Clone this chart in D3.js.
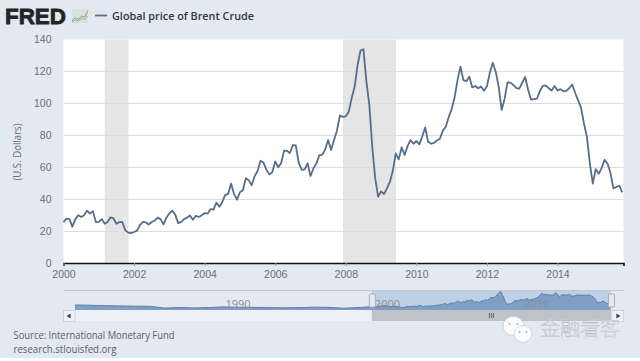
<!DOCTYPE html>
<html>
<head>
<meta charset="utf-8">
<script src="https://d3js.org/d3.v7.min.js"></script>
<style>
  html, body { margin: 0; padding: 0; background: #fff; }
  svg { display: block; font-family: "Open Sans", sans-serif; }
</style>
</head>
<body>
<svg id="chart" width="640" height="361"></svg>
<script>
// monthly price, one row per year, 2000 to Nov 2015
let y2000 = [25.5, 27.8, 27.5, 22.8, 27.5, 29.9, 28.8, 29.9, 32.8, 30.9, 32.5, 25.6];
let y2001 = [25.8, 27.5, 24.6, 25.7, 28.6, 27.9, 24.6, 25.6, 25.7, 20.6, 19.0, 18.7];
let y2002 = [19.4, 20.3, 23.7, 25.7, 25.4, 24.1, 25.7, 26.6, 28.4, 27.5, 24.2, 28.4];
let y2003 = [31.2, 32.7, 30.3, 25.0, 25.8, 27.5, 28.4, 29.8, 27.1, 29.6, 28.8, 29.9];
let y2004 = [31.3, 30.9, 33.8, 33.4, 37.9, 35.2, 38.2, 42.7, 43.2, 49.8, 43.1, 39.7];
let y2005 = [44.3, 45.6, 53.1, 51.9, 48.7, 54.3, 57.6, 64.1, 62.9, 58.5, 55.5, 56.8];
let y2006 = [63.6, 60.0, 62.4, 70.4, 70.2, 68.9, 73.9, 73.6, 62.7, 58.4, 58.7, 62.4];
let y2007 = [54.5, 59.2, 62.4, 67.5, 67.7, 71.2, 77.0, 70.8, 77.1, 82.9, 92.5, 91.5];
let y2008 = [91.9, 94.8, 103.3, 110.2, 123.9, 133.0, 133.9, 113.8, 99.1, 72.7, 53.0, 41.6];
let y2009 = [44.9, 43.1, 46.8, 50.8, 57.9, 68.6, 64.9, 72.5, 67.7, 73.2, 77.0, 74.7];
let y2010 = [76.4, 74.3, 79.3, 84.9, 75.9, 74.7, 75.3, 76.7, 77.8, 82.9, 85.3, 91.4];
let y2011 = [96.5, 103.7, 114.6, 123.0, 114.5, 113.9, 116.7, 110.0, 110.9, 109.5, 110.5, 107.9];
let y2012 = [110.7, 119.3, 125.4, 119.7, 110.3, 95.9, 102.8, 113.2, 113.0, 111.5, 109.5, 109.2];
let y2013 = [112.9, 116.5, 108.5, 102.3, 102.6, 102.9, 107.7, 110.9, 111.2, 109.5, 108.0, 110.8];
let y2014 = [108.1, 108.9, 107.5, 107.8, 109.5, 111.8, 106.5, 101.9, 97.3, 87.3, 79.0, 62.3];
let y2015 = [49.8, 58.8, 55.9, 59.4, 64.6, 62.3, 56.5, 46.7, 47.6, 48.4, 44.3];

// yearly average for the navigator, 1980 to 1999
let earlyYears = [37, 35, 32, 30, 28, 27, 14, 18, 15, 18, 23, 20, 19, 17, 16, 17, 21, 19, 13, 18];

let yTicks = [0, 20, 40, 60, 80, 100, 120, 140];
let xTicks = [2000, 2002, 2004, 2006, 2008, 2010, 2012, 2014];
let navTicks = [1990, 2000, 2010];
let recessions = [[2001.17, 2001.84], [2007.92, 2009.42]];

let title = "Global price of Brent Crude";
let yLabel = "(U.S. Dollars)";
let sourceLines = ["Source: International Monetary Fund", "research.stlouisfed.org"];
let watermark = "金融看客";

let monthly = [y2000, y2001, y2002, y2003, y2004, y2005, y2006, y2007,
  y2008, y2009, y2010, y2011, y2012, y2013, y2014, y2015]
  .flatMap((row, i) => row.map((v, m) => ({ t: 2000 + i + m / 12, v: v })));
let early = earlyYears.map((v, i) => ({ t: 1980 + i, v: v }));

let svg = d3.select("#chart");

// page background
svg.append("rect").attr("width", 640).attr("height", 358).attr("fill", "#e2e9f1");

// Create scales
let x = d3.scaleLinear().domain([2000, 2015.87]).range([63.5, 623.5]);
let y = d3.scaleLinear().domain([0, 140]).range([263, 39.5]);
let navX = d3.scaleLinear().domain([1980, 2015.87]).range([75, 611]);
let navY = d3.scaleLinear().domain([0, 140]).range([310, 291]);

// Plot area
svg.append("rect")
  .attr("x", x.range()[0])
  .attr("y", y.range()[1])
  .attr("width", x.range()[1] - x.range()[0])
  .attr("height", y.range()[0] - y.range()[1])
  .attr("fill", "#fff");

// Recession bands
svg.append("g")
  .selectAll("rect")
  .data(recessions)
  .enter()
  .append("rect")
  .attr("x", (d) => x(d[0]))
  .attr("y", y(140))
  .attr("width", (d) => x(d[1]) - x(d[0]))
  .attr("height", y(0) - y(140))
  .attr("fill", "#e5e5e6");

// Grid lines
svg.append("g")
  .selectAll("line")
  .data(yTicks.slice(1, -1))
  .enter()
  .append("line")
  .attr("x1", x.range()[0])
  .attr("x2", x.range()[1])
  .attr("y1", (d) => Math.round(y(d)) + 0.5)
  .attr("y2", (d) => Math.round(y(d)) + 0.5)
  .attr("stroke", "#dcdcdf");

// Axes
let yAxis = svg.append("g")
  .attr("transform", `translate(${x.range()[0]},0)`)
  .call(d3.axisLeft(y).tickValues(yTicks).tickSize(0).tickPadding(12));
yAxis.select(".domain").remove();
yAxis.selectAll("text").style("font-size", "10.5px").attr("fill", "#6d6f74");

let xAxis = svg.append("g")
  .attr("transform", `translate(0,${y(0)})`)
  .call(d3.axisBottom(x).tickValues(xTicks).tickFormat(d3.format("d")).tickSize(3).tickPadding(5));
xAxis.select(".domain").attr("stroke", "#111").attr("stroke-width", 1.6);
xAxis.selectAll("line").attr("stroke", "#999");
xAxis.selectAll("text").style("font-size", "10.5px").attr("fill", "#6d6f74");

// Y-Axis Label
svg.append("text")
  .attr("transform", "rotate(-90)")
  .attr("x", -152)
  .attr("y", 21)
  .attr("text-anchor", "middle")
  .attr("textLength", 57)
  .attr("lengthAdjust", "spacingAndGlyphs")
  .style("font-size", "10px")
  .attr("fill", "#6d6f74")
  .text(yLabel);

// Price line
let line = d3.line().x((d) => x(d.t)).y((d) => y(d.v));
svg.append("path")
  .datum(monthly)
  .attr("d", line)
  .attr("fill", "none")
  .attr("stroke", "#566e8c")
  .attr("stroke-width", 1.8)
  .attr("stroke-linejoin", "round");

// Navigator
let selStart = navX(2000) - 2;
let selEnd = navX(2015.87);
let allPoints = early.concat(monthly);

svg.append("rect")
  .attr("x", navX.range()[0])
  .attr("y", 310)
  .attr("width", selStart - navX.range()[0])
  .attr("height", 11)
  .attr("fill", "#edf1f6");
svg.append("rect")
  .attr("x", selStart)
  .attr("y", 291)
  .attr("width", selEnd - selStart)
  .attr("height", 19)
  .attr("fill", "#bed0e6");
svg.append("line")
  .attr("x1", x.range()[0])
  .attr("x2", x.range()[1])
  .attr("y1", 290.5)
  .attr("y2", 290.5)
  .attr("stroke", "#c4c8cd");

let navArea = d3.area().x((d) => navX(d.t)).y0(navY(0)).y1((d) => navY(d.v));
svg.append("path").datum(allPoints).attr("d", navArea).attr("fill", "#7f9fc4");
svg.append("path")
  .datum(allPoints)
  .attr("d", d3.line().x((d) => navX(d.t)).y((d) => navY(d.v)))
  .attr("fill", "none")
  .attr("stroke", "#5d7ea6");

svg.append("g")
  .selectAll("text")
  .data(navTicks)
  .enter()
  .append("text")
  .attr("x", (d) => navX(d) + 1)
  .attr("y", 308)
  .style("font-size", "11px")
  .attr("fill", "#8b8f96")
  .text((d) => d);

// Scrollbar and its buttons
svg.append("rect")
  .attr("x", selStart)
  .attr("y", 310)
  .attr("width", selEnd - selStart)
  .attr("height", 11)
  .attr("fill", "#bfc2c7");
svg.append("g")
  .selectAll("line")
  .data([-2, 0, 2])
  .enter()
  .append("line")
  .attr("x1", (d) => (selStart + selEnd) / 2 + d)
  .attr("x2", (d) => (selStart + selEnd) / 2 + d)
  .attr("y1", 313)
  .attr("y2", 318)
  .attr("stroke", "#666");

let buttons = [[63.5, -90], [612, 90]];
let arrow = d3.symbol().type(d3.symbolTriangle).size(10);
svg.append("g")
  .selectAll("g")
  .data(buttons)
  .enter()
  .append("g")
  .each(function (d) {
    d3.select(this).append("rect")
      .attr("x", d[0])
      .attr("y", 310.5)
      .attr("width", 11.5)
      .attr("height", 11)
      .attr("fill", "#eef1f5")
      .attr("stroke", "#cfd3d8");
    d3.select(this).append("path")
      .attr("d", arrow())
      .attr("transform", `translate(${d[0] + 5.75},316) rotate(${d[1]})`)
      .attr("fill", "#444");
  });

// Navigator handles
svg.append("g")
  .selectAll("rect")
  .data([selStart, selEnd])
  .enter()
  .append("rect")
  .attr("x", (d) => d - 2.5)
  .attr("y", 294)
  .attr("width", 6)
  .attr("height", 13)
  .attr("rx", 1)
  .attr("fill", "#e8e9eb")
  .attr("stroke", "#aaaeb3");

// Logo and legend
svg.append("text")
  .attr("x", 5)
  .attr("y", 24)
  .attr("textLength", 61)
  .attr("lengthAdjust", "spacingAndGlyphs")
  .style("font-family", "'Liberation Sans', sans-serif")
  .style("font-size", "22px")
  .style("font-weight", "bold")
  .attr("fill", "#232426")
  .attr("stroke", "#232426")
  .attr("stroke-width", 0.8)
  .text("FRED");

let logoX = d3.scaleLinear().domain([0, 5]).range([72, 88]);
let logoY = d3.scaleLinear().domain([0, 5]).range([23, 9]);
svg.append("rect")
  .attr("x", logoX(0))
  .attr("y", logoY(5))
  .attr("width", 16)
  .attr("height", 14)
  .attr("fill", "#d9e1dc");
let logoLine = d3.line().x((d, i) => logoX(i)).y((d) => logoY(d));
svg.append("path")
  .attr("d", logoLine([0.8, 1.8, 1.2, 2.4, 2.1, 4.4]))
  .attr("fill", "none")
  .attr("stroke", "#8a9a90");
svg.append("path")
  .attr("d", logoLine([0.4, 1.0, 0.7, 1.6, 1.3, 2.6]))
  .attr("fill", "none")
  .attr("stroke", "#9dbb8f");

svg.append("line")
  .attr("x1", 95)
  .attr("x2", 107)
  .attr("y1", 15.5)
  .attr("y2", 15.5)
  .attr("stroke", "#566e8c")
  .attr("stroke-width", 1.8);
svg.append("text")
  .attr("x", 112)
  .attr("y", 19.5)
  .attr("textLength", 142)
  .attr("lengthAdjust", "spacingAndGlyphs")
  .style("font-size", "11px")
  .style("font-weight", "600")
  .attr("fill", "#33363b")
  .text(title);

// Source
svg.append("g")
  .selectAll("text")
  .data(sourceLines)
  .enter()
  .append("text")
  .attr("x", 13.5)
  .attr("y", (d, i) => 338.5 + i * 14.5)
  .attr("textLength", (d, i) => (i === 0 ? 161 : 103))
  .attr("lengthAdjust", "spacingAndGlyphs")
  .style("font-size", "10.5px")
  .attr("fill", "#5c6066")
  .text((d) => d);

// Watermark, two chat bubbles and the account name
let bubbles = [
  { cx: 513.5, cy: 326, rx: 10.5, ry: 9.5, eyes: [-4, 4] },
  { cx: 523, cy: 334, rx: 9, ry: 8.5, eyes: [-3.5, 3.5] },
];
let wm = svg.append("g");
bubbles.forEach((b) => {
  wm.append("ellipse")
    .attr("cx", b.cx)
    .attr("cy", b.cy)
    .attr("rx", b.rx)
    .attr("ry", b.ry)
    .attr("fill", "#fbfcfd")
    .attr("stroke", "#c3c8cf")
    .attr("stroke-width", 0.7);
  wm.selectAll(null)
    .data(b.eyes)
    .enter()
    .append("circle")
    .attr("cx", (d) => b.cx + d)
    .attr("cy", b.cy - 2)
    .attr("r", 1)
    .attr("fill", "#a9aeb5");
});
svg.append("text")
  .attr("x", 540)
  .attr("y", 336)
  .style("font-family", "'Noto Sans CJK SC', sans-serif")
  .style("font-size", "20px")
  .style("font-weight", "300")
  .attr("textLength", 80)
  .attr("fill", "#f4f6f9")
  .attr("stroke", "#aeb4bc")
  .attr("stroke-width", 0.4)
  .text(watermark);
</script>
</body>
</html>
